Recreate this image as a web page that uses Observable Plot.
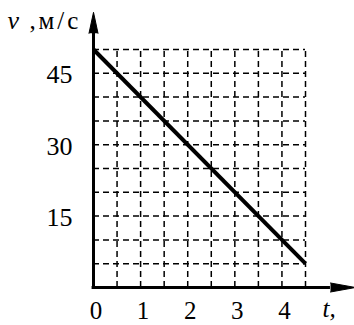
<!DOCTYPE html>
<html>
<head>
<meta charset="utf-8">
<script src="https://cdn.jsdelivr.net/npm/d3@7"></script>
<script src="https://cdn.jsdelivr.net/npm/@observablehq/plot@0.6"></script>
<style>
html, body { margin: 0; padding: 0; background: #fff; }
</style>
</head>
<body>
<div id="chart"></div>
<script>
// Data
const times = [0, 4.5];
const speeds = [50, 5];
const gridX = [0.5, 1, 1.5, 2, 2.5, 3, 3.5, 4, 4.5];
const gridY = [5, 10, 15, 20, 25, 30, 35, 40, 45, 50];
const xTicks = [0, 1, 2, 3, 4];
const yTicks = [15, 30, 45];
const xLabel = "t,";
const yLabelSymbol = "v";
const yLabelComma = ",";
const yLabelUnit = "м/с";
const axisTopY = 53.4;
const axisRightX = 5.03;

const lineData = times.map((t, i) => ({t, v: speeds[i]}));
const font = "Liberation Serif";

const chart = Plot.plot({
  width: 354,
  height: 325,
  margin: 0,
  style: {background: "#fff", color: "black"},
  x: {domain: [0, 4.5], range: [93, 305], axis: null},
  y: {domain: [0, 50], range: [287, 49], axis: null},
  marks: [
    Plot.ruleX(gridX, {x: d => d, y1: 0, y2: 50, stroke: "black", strokeWidth: 1.5, strokeDasharray: "6,4"}),
    Plot.ruleY(gridY, {y: d => d, x1: 0, x2: 4.5, stroke: "black", strokeWidth: 1.5, strokeDasharray: "6,4"}),
    Plot.ruleX([0], {x: d => d, y1: 0, y2: axisTopY, stroke: "black", strokeWidth: 3}),
    Plot.ruleY([0], {y: d => d, x1: -0.03, x2: axisRightX, stroke: "black", strokeWidth: 3}),
    Plot.vector([0], {x: 0, y: axisTopY, length: 21, r: 4.5, shape: "spike", anchor: "start", rotate: 0, fill: "black", fillOpacity: 1, stroke: "black", strokeWidth: 1}),
    Plot.vector([0], {x: axisRightX, y: 0, length: 25, r: 4.5, shape: "spike", anchor: "start", rotate: 90, fill: "black", fillOpacity: 1, stroke: "black", strokeWidth: 1}),
    Plot.line(lineData, {x: "t", y: "v", stroke: "black", strokeWidth: 4, strokeLinecap: "butt"}),
    Plot.text(xTicks, {x: d => d, y: 0, text: d => String(d), dx: 2.5, dy: 31, lineAnchor: "bottom", fontSize: 25, fontFamily: font, fill: "black"}),
    Plot.text(yTicks, {x: 0, y: d => d, text: d => String(d), dx: -21, dy: 1.5, textAnchor: "end", lineAnchor: "middle", fontSize: 26, fontFamily: font, fill: "black"}),
    Plot.text([xLabel], {frameAnchor: "top-left", dx: 322, dy: 316, textAnchor: "start", lineAnchor: "bottom", fontSize: 25, fontFamily: font, fontStyle: "italic", fill: "black"}),
    Plot.text([yLabelSymbol], {frameAnchor: "top-left", dx: 7, dy: 28, textAnchor: "start", lineAnchor: "bottom", fontSize: 26, fontFamily: font, fontStyle: "italic", fill: "black"}),
    Plot.text([yLabelComma], {frameAnchor: "top-left", dx: 29, dy: 28, textAnchor: "start", lineAnchor: "bottom", fontSize: 25, fontFamily: font, fill: "black"}),
    Plot.text([yLabelUnit], {frameAnchor: "top-left", dx: 38, dy: 28, textAnchor: "start", lineAnchor: "bottom", fontSize: 25, fontFamily: font, fill: "black"})
  ]
});
d3.select(chart).selectAll("text").filter(function() { return this.textContent === yLabelUnit; }).attr("letter-spacing", 3);
document.getElementById("chart").appendChild(chart);
</script>
</body>
</html>
